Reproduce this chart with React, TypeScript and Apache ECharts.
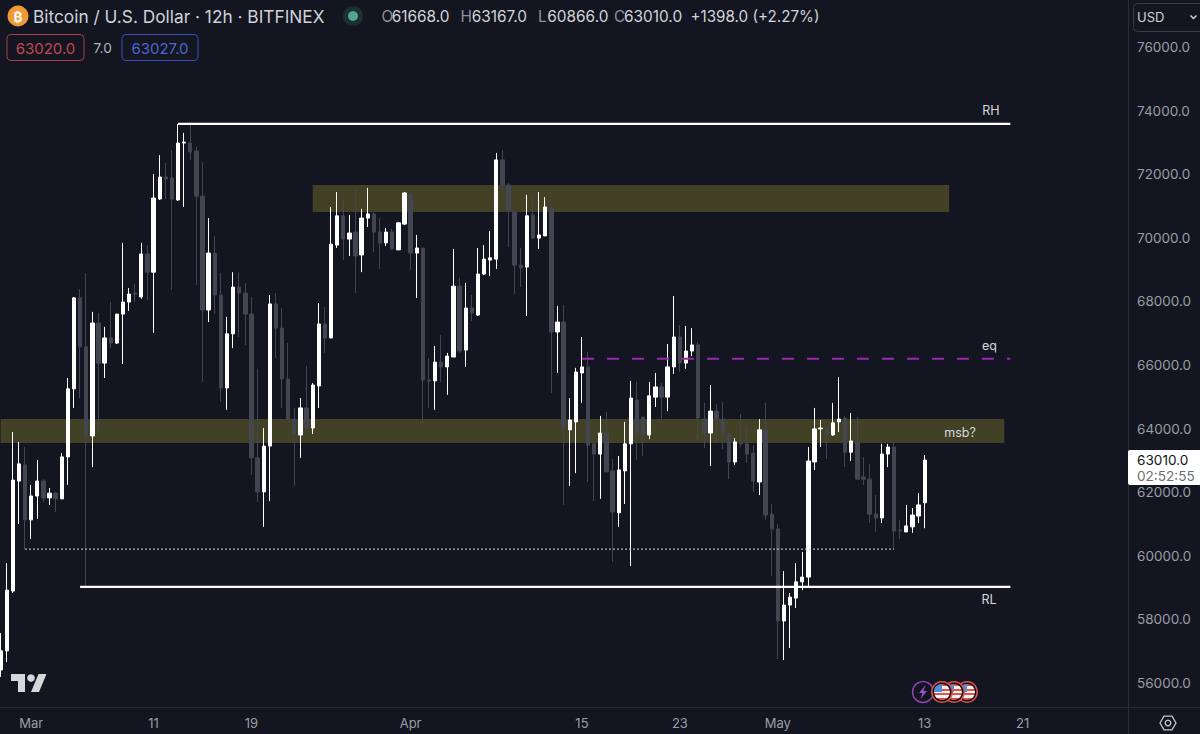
import React, { useEffect, useRef } from "react";
import * as echarts from "echarts";

// [open, close, low, high]
const candlesA = [
  [56410,57010,56190,57570],[57010,58920,56660,59770],[58890,62380,58830,63890],[62350,62890,61000,63580],
  [62860,61130,60210,63420],[61130,61880,60530,62230],[61880,62350,61160,63010],[62350,61820,61690,62410],
  [61820,61970,61600,62130],[61970,61790,61380,62010],[61790,63110,61790,63230],[63110,65250,62230,65590],
  [65250,68110,64650,68140],[68110,66570,64960,68390],[66570,63800,59020,68890],[63770,67320,62790,67670],
  [67320,66060,63890,67640],[66060,66850,65590,67200],[66850,66690,66530,67980],[66690,67600,66660,67610],
  [67600,67980,66030,69840],[67980,68230,67700,68420],[68260,68230,67980,68550],[68140,69490,68080,69840],
  [69490,68920,68040,69770],[68920,71250,67010,72010],[71220,71910,71190,72600],[71910,71850,71220,72350],
  [71880,71220,68360,72760],[71190,72980,71160,73580],[72980,73010,70970,73300],[72980,72700,72450,73610],
  [72730,71310,68520,72860],[71310,67730,65470,72380],[67730,69520,67350,70620],[69520,68200,67600,70060],
  [68200,65280,64840,68890],[65280,66980,64590,67510],[66980,68450,66530,68920],[68450,68260,66880,68920],
];
const candlesB = [
  [68260,67600,66630,68580],[67600,63080,62540,68140],[63080,62010,61690,65880],[62010,63450,60910,64020],
  [63450,67920,61720,68200],[67920,67160,66220,68260],[67160,65560,64650,67790],[65560,64300,64270,66690],
  [64300,63830,62200,64650],[63800,64650,63080,64960],[64650,64020,64020,65970],[64020,65370,63830,65430],
  [65340,67290,64650,67950],[67290,66850,66380,67820],[66850,69800,66850,70970],[69770,70690,69680,71440],
  [70690,69960,69300,71160],[69960,70150,69430,70720],[70180,69430,68260,71600],[69460,70620,68920,70910],
  [70620,70750,70340,71570],[70750,70180,69550,70810],[70180,69840,69020,70620],[69840,70180,69740,70310],
  [70180,69650,69620,70280],[69620,70470,69620,70500],[70430,71410,70400,71440],[71350,69520,68990,71410],
  [69520,69680,68110,70090],[69680,65530,64180,69690],[65530,65500,64650,66220],[65500,66090,64590,66600],
  [66090,65940,65470,66940],[65940,66280,65060,66380],[66250,68480,66250,69650],[68480,66440,66380,68740],
  [66470,67790,65940,68580],[67790,67640,67380,68200],[67570,68860,67540,69680],[68860,69330,68830,69770],
];
const candlesC = [
  [69300,69370,68800,70210],[69330,72450,69020,72670],[72450,71660,71350,72760],[71660,70840,69710,71720],
  [70810,69140,68230,70840],[69140,69050,68450,69680],[69080,70690,67540,71350],[70720,69990,69960,71350],
  [69990,70090,69650,71440],[70060,70970,70060,71280],[70940,67040,65120,70970],[67040,67350,65750,67860],
  [67350,64050,61600,67890],[63960,64270,62200,64960],[64210,65780,62600,65910],[65750,65940,64810,66880],
  [65940,63480,62320,66410],[63520,63200,61720,63550],[63200,63860,61790,64400],[63860,62640,62640,64520],
  [62670,61380,59810,63040],[61350,62700,60910,63140],[62670,63520,61630,64210],[63520,64960,59680,65500],
  [64900,63860,63010,65470],[64360,63830,63140,64370],[63800,65030,63670,65470],[64990,65310,64680,65750],
  [65310,64990,64300,65430],[64990,65940,64550,66660],[65940,66880,65720,68170],[66880,66060,65780,67260],
  [66060,66440,65880,67230],[66440,66630,66280,67160],[66630,64330,63580,66720],[64300,63860,63390,64810],
];
const candlesD = [
  [63860,64550,62820,65370],[64550,64300,63550,64770],[64300,63860,63360,64840],[63860,62950,62410,63890],
  [62950,63580,62860,63700],[63550,63520,63420,64460],[63520,63200,62920,64020],[63230,62350,62010,63480],
  [62320,63960,61910,64300],[63960,61280,61130,64810],[61310,60840,59360,61630],[60840,57950,56750,61000],
  [57950,58450,56720,59520],[58450,58700,57100,58830],[58670,59180,58360,59770],[59180,59330,58920,60120],
  [59330,62980,59020,63420],[62950,63990,62700,64650],[63990,64020,63420,64270],[64020,63800,63040,64050],
  [63800,64180,63770,64810],[64210,64300,63890,65620],[64330,63260,62790,64400],[63260,63610,62980,64490],
  [63580,62410,62410,64360],[62480,62410,62230,63110],[62410,61310,61030,62890],[61310,61190,60750,61910],
  [61190,63200,61030,63520],[63200,63420,62790,63520],[63420,60780,60210,63580],[60810,60780,60530,61130],
  [60750,60940,60750,61600],[60910,61280,60720,61500],[61250,61600,61030,61970],[61668,63010,60866,63167],
];
const candles = [...candlesA, ...candlesB, ...candlesC, ...candlesD];

const yTicks = [56000,58000,60000,62000,64000,66000,68000,70000,72000,74000,76000];
const xTickDates = ["2024-03-01","2024-03-11","2024-03-19","2024-04-01","2024-04-15","2024-04-23","2024-05-01","2024-05-13","2024-05-21"];
const xTickLabels = ["Mar","11","19","Apr","15","23","May","13","21"];

const rhLine = [[29,73580],[165,73580]];
const rlLine = [[13,59020],[165,59020]];
const eqLine = [[95,66200],[165,66200]];
const dottedLine = [[4,60210],[146,60210]];
const upperZone = { fromIdx: 51, toIdx: 155, low: 70810, high: 71660 };
const lowerZone = { fromIdx: 0, toIdx: 164, low: 63550, high: 64300 };

const ohlcLabels = [
  ["O","61668.0"],["H","63167.0"],["L","60866.0"],["C","63010.0"],
];
const ohlcChange = "+1398.0 (+2.27%)";

const CATEGORY_COUNT = 185;
const HALF_DAY = 12 * 3600 * 1000;
const START = Date.UTC(2024, 1, 27, 12);
const categories = Array.from({ length: CATEGORY_COUNT }, (_, i) =>
  new Date(START + i * HALF_DAY).toISOString().slice(0, 13)
);
const tickKey = (d: string) => d + "T00";

const BG = "#131620";
const FONT = "Inter";
const LINE = "#2b2e38";
const LABEL = "#9a9da6";

function txt(text: string, x: number, y: number, fill: string, size: number, align = "left", weight = 400) {
  return {
    type: "text",
    silent: true,
    z: 50,
    style: { text, x, y, fill, font: `${weight} ${size}px ${FONT}`, textAlign: align, textVerticalAlign: "middle" },
  };
}
function rrect(x: number, y: number, w: number, h: number, stroke: string, fill = "transparent") {
  return {
    type: "rect",
    silent: true,
    z: 48,
    shape: { x, y, width: w, height: h, r: 4 },
    style: { fill, stroke, lineWidth: 1 },
  };
}
function flag(cx: number, cy: number, z: number) {
  const stops: any[] = [];
  const n = 7;
  for (let i = 0; i < n; i++) {
    const c = i % 2 === 0 ? "#e0524a" : "#f4f4f4";
    stops.push({ offset: i / n, color: c }, { offset: (i + 1) / n, color: c });
  }
  return [
    { type: "circle", silent: true, z, shape: { cx, cy, r: 11 }, style: { fill: "#e0524a" } },
    { type: "circle", silent: true, z, shape: { cx, cy, r: 9.4 }, style: { fill: "#0d0f14" } },
    {
      type: "circle", silent: true, z, shape: { cx, cy, r: 8 },
      style: { fill: { type: "linear", x: 0, y: 0, x2: 0, y2: 1, colorStops: stops } },
    },
    {
      type: "sector", silent: true, z,
      shape: { cx, cy, r: 8, r0: 0, startAngle: Math.PI, endAngle: Math.PI * 1.5 },
      style: { fill: "#4a90e2" },
    },
  ];
}

const graphics: any[] = [
  // frame lines
  { type: "line", silent: true, z: 40, shape: { x1: 0, y1: 707.5, x2: 1200, y2: 707.5 }, style: { stroke: LINE, lineWidth: 1 } },
  { type: "line", silent: true, z: 40, shape: { x1: 1128.5, y1: 0, x2: 1128.5, y2: 734 }, style: { stroke: LINE, lineWidth: 1 } },
  // header
  { type: "circle", silent: true, z: 48, shape: { cx: 18, cy: 16, r: 10.5 }, style: { fill: "#f0993a" } },
  txt("₿", 18, 16.5, "#ffffff", 13, "center", 700),
  txt("Bitcoin / U.S. Dollar · 12h · BITFINEX", 33, 16, "#cfd2da", 17.3),
  { type: "circle", silent: true, z: 48, shape: { cx: 353, cy: 16, r: 10 }, style: { fill: "#1d2f30" } },
  { type: "circle", silent: true, z: 49, shape: { cx: 353, cy: 16, r: 5 }, style: { fill: "#4fa58e" } },
  rrect(7, 34.5, 77, 26, "#a83f48"),
  txt("63020.0", 45.5, 48, "#c2474f", 15, "center"),
  txt("7.0", 93.5, 47.5, "#b2b5bd", 13.7),
  rrect(122, 34.5, 76, 26, "#3a50b0"),
  txt("63027.0", 160, 48, "#4a66cf", 15, "center"),
  // USD box
  rrect(1133.5, 3.5, 72, 28, "#3a3d47"),
  txt("USD", 1137, 17, "#cfd2da", 13),
  { type: "polyline", silent: true, z: 49, shape: { points: [[1190.5, 15.5], [1193.5, 18.5], [1196.5, 15.5]] }, style: { stroke: "#cfd2da", lineWidth: 1.5, fill: "none" } },
  // price tag
  { type: "rect", silent: true, z: 48, shape: { x: 1128, y: 450, width: 72, height: 35, r: [2, 0, 0, 2] }, style: { fill: "#ffffff" } },
  txt("63010.0", 1137, 460, "#131620", 13.6),
  txt("02:52:55", 1137, 476, "#6b6e76", 13.6),
  // drawing labels
  txt("RH", 991, 110, "#d6d8de", 12.5, "center"),
  txt("eq", 989.5, 345, "#d6d8de", 12.5, "center"),
  txt("msb?", 960, 432, "#d6d8de", 12.5, "center"),
  txt("RL", 989, 599, "#d6d8de", 12.5, "center"),
  // TradingView mark
  { type: "polygon", silent: true, z: 48, shape: { points: [[11, 674], [25, 674], [25, 692], [18, 692], [18, 681], [11, 681]] }, style: { fill: "#d6d7da" } },
  { type: "circle", silent: true, z: 48, shape: { cx: 31, cy: 678, r: 3.8 }, style: { fill: "#d6d7da" } },
  { type: "polygon", silent: true, z: 48, shape: { points: [[31, 692], [38.5, 674], [46.5, 674], [39, 692]] }, style: { fill: "#d6d7da" } },
  // event badges
  { type: "circle", silent: true, z: 41, shape: { cx: 923, cy: 692, r: 10.4 }, style: { fill: BG, stroke: "#8e44ad", lineWidth: 1.5 } },
  { type: "polygon", silent: true, z: 42, shape: { points: [[925.5, 685], [919, 693], [922.5, 693], [920.5, 699], [927, 691], [923.5, 691]] }, style: { fill: "#9c4fc7" } },
  ...flag(967, 692, 43),
  ...flag(954, 692, 44),
  ...flag(942, 692, 45),
  // settings hexagon
  { type: "polygon", silent: true, z: 48, shape: { points: [[1160, 723], [1164, 716.2], [1172, 716.2], [1176, 723], [1172, 729.8], [1164, 729.8]] }, style: { fill: "none", stroke: "#c4c6cc", lineWidth: 1.3 } },
  { type: "circle", silent: true, z: 48, shape: { cx: 1168, cy: 723, r: 2.8 }, style: { fill: "none", stroke: "#c4c6cc", lineWidth: 1.3 } },
];
// OHLC readout
const ohlcKeyXs = [381.5, 460.5, 538, 614];
const ohlcValueXs = [391.7, 471.7, 547.3, 624];
ohlcLabels.forEach(([k, v], i) => {
  graphics.push(txt(k, ohlcKeyXs[i], 16, "#8f929b", 15.4));
  graphics.push(txt(v, ohlcValueXs[i], 16, "#d0d3da", 15.4));
});
graphics.push(txt(ohlcChange, 690.5, 16, "#d0d3da", 15.2));

export default function App() {
  const ref = useRef<HTMLDivElement>(null);
  useEffect(() => {
    document.body.style.margin = "0";
    document.body.style.background = BG;
    const chart = echarts.init(ref.current!, undefined, { renderer: "svg" });
    const overlay = (name: string, data: number[][], color: string, width: number, type: any = "solid") => ({
      name, type: "line", data, symbol: "none", silent: true, z: 6, animation: false,
      lineStyle: { color, width, type },
    });
    chart.setOption({
      animation: false,
      backgroundColor: BG,
      grid: { left: 0.56, top: 0, width: 1126.08, height: 707 },
      xAxis: {
        type: "category",
        data: categories,
        boundaryGap: false,
        axisLine: { show: false },
        axisTick: { show: false },
        splitLine: { show: false },
        axisLabel: {
          interval: (_: number, v: string) => xTickDates.some((d) => tickKey(d) === v),
          formatter: (v: string) => xTickLabels[xTickDates.findIndex((d) => tickKey(d) === v)] ?? "",
          color: LABEL,
          fontFamily: FONT,
          fontSize: 13,
          margin: 9,
        },
      },
      yAxis: {
        type: "value",
        position: "right",
        min: 55245,
        max: 77478,
        axisLine: { show: false },
        axisTick: { show: false },
        splitLine: { show: false },
        axisLabel: {
          customValues: yTicks,
          formatter: (v: number) => v.toFixed(1),
          color: LABEL,
          fontFamily: FONT,
          fontSize: 13.5,
          margin: 10.4,
        },
      },
      graphic: graphics,
      series: [
        {
          type: "candlestick",
          data: candles,
          barWidth: 3.8,
          z: 2,
          silent: true,
          clip: false,
          itemStyle: {
            color: "#ffffff",
            color0: "#434651",
            borderColor: "#ffffff",
            borderColor0: "#434651",
            borderWidth: 1,
          },
        },
        {
          type: "line",
          data: [],
          z: 4,
          silent: true,
          markArea: {
            silent: true,
            itemStyle: { color: "rgba(255,235,59,0.2)" },
            data: [upperZone, lowerZone].map((b) => [
              { xAxis: b.fromIdx, yAxis: b.high },
              { xAxis: b.toIdx, yAxis: b.low },
            ]),
          },
        },
        overlay("RH", rhLine, "#ffffff", 2.2),
        overlay("RL", rlLine, "#ffffff", 2.2),
        overlay("eq", eqLine, "#9c27b0", 2, [12, 13]),
        overlay("dotted", dottedLine, "#dcdcdc", 1, [2, 2]),
      ],
    });
    return () => chart.dispose();
  }, []);
  return <div ref={ref} style={{ position: "fixed", left: 0, top: 0, width: 1200, height: 734 }} />;
}
